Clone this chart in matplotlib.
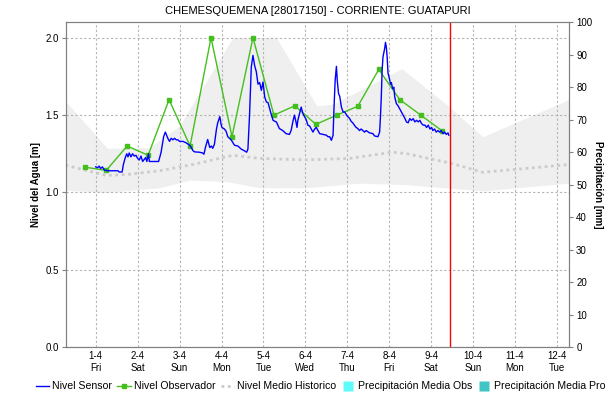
import pandas as pd
import matplotlib
matplotlib.use('Agg')
import matplotlib.pyplot as plt
import matplotlib.dates as mdates
from matplotlib.lines import Line2D

plt.rcParams['font.family'] = ['Liberation Sans', 'DejaVu Sans']

# origen de tiempo: 1-4-2016 00:00, todo en dias desde ahi
t0 = pd.Timestamp('2016-04-01 00:00')

# nivel sensor (dias, m)
sensor_dias = [0.00, 0.05, 0.08, 0.12, 0.16, 0.21, 0.30, 0.45, 0.53, 0.56, 0.63, 0.66, 0.70, 0.74,
               0.77, 0.80, 0.84, 0.88, 0.92, 0.96, 1.00, 1.04, 1.08, 1.12, 1.19, 1.22, 1.26, 1.28,
               1.50, 1.56, 1.62, 1.66, 1.72, 1.76, 1.80, 1.84, 1.88, 1.92, 1.96, 2.00, 2.08, 2.16,
               2.24, 2.28, 2.32, 2.36, 2.47, 2.55, 2.58, 2.62, 2.67, 2.72, 2.76, 2.79, 2.83, 2.88,
               2.91, 2.96, 2.99, 3.01, 3.07, 3.11, 3.15, 3.23, 3.31, 3.39, 3.47, 3.54, 3.60, 3.63,
               3.67, 3.71, 3.75, 3.79, 3.83, 3.87, 3.91, 3.95, 3.99, 4.03, 4.07, 4.11, 4.19, 4.23,
               4.31, 4.38, 4.46, 4.54, 4.62, 4.66, 4.70, 4.74, 4.78, 4.80, 4.82, 4.86, 4.90, 4.94,
               4.98, 5.02, 5.06, 5.10, 5.14, 5.18, 5.22, 5.26, 5.30, 5.34, 5.42, 5.50, 5.54, 5.58,
               5.62, 5.66, 5.68, 5.71, 5.74, 5.76, 5.79, 5.82, 5.86, 5.90, 5.94, 5.98, 6.01, 6.05,
               6.09, 6.13, 6.17, 6.21, 6.25, 6.29, 6.33, 6.37, 6.41, 6.45, 6.53, 6.61, 6.65, 6.73,
               6.77, 6.79, 6.81, 6.83, 6.85, 6.89, 6.91, 6.93, 6.95, 6.97, 7.00, 7.03, 7.05, 7.08,
               7.11, 7.13, 7.17, 7.21, 7.25, 7.29, 7.33, 7.37, 7.41, 7.45, 7.49, 7.53, 7.57, 7.61,
               7.65, 7.69, 7.73, 7.77, 7.81, 7.85, 7.89, 7.93, 7.97, 8.01, 8.04, 8.08, 8.12, 8.16,
               8.20, 8.24, 8.28, 8.32, 8.36, 8.40, 8.42]
sensor_nivel = [1.165, 1.16, 1.17, 1.155, 1.165, 1.144, 1.14, 1.14, 1.14, 1.132, 1.132, 1.18, 1.22, 1.25,
                1.23, 1.255, 1.23, 1.25, 1.235, 1.24, 1.22, 1.21, 1.235, 1.20, 1.225, 1.20, 1.25, 1.20,
                1.20, 1.26, 1.36, 1.39, 1.35, 1.33, 1.35, 1.34, 1.35, 1.34, 1.34, 1.33, 1.33, 1.32,
                1.305, 1.29, 1.27, 1.262, 1.26, 1.255, 1.247, 1.294, 1.342, 1.29, 1.30, 1.285, 1.31, 1.41,
                1.45, 1.49, 1.44, 1.42, 1.41, 1.395, 1.36, 1.34, 1.305, 1.30, 1.28, 1.27, 1.26, 1.28,
                1.51, 1.81, 1.886, 1.82, 1.78, 1.70, 1.71, 1.66, 1.714, 1.617, 1.585, 1.58, 1.50, 1.466,
                1.455, 1.413, 1.40, 1.38, 1.375, 1.40, 1.456, 1.50, 1.45, 1.42, 1.466, 1.51, 1.552, 1.51,
                1.49, 1.47, 1.434, 1.43, 1.41, 1.39, 1.41, 1.42, 1.40, 1.38, 1.375, 1.37, 1.36, 1.36,
                1.337, 1.37, 1.53, 1.725, 1.815, 1.725, 1.64, 1.62, 1.55, 1.52, 1.52, 1.50, 1.49, 1.48,
                1.46, 1.45, 1.434, 1.42, 1.413, 1.40, 1.41, 1.40, 1.39, 1.40, 1.385, 1.38, 1.365, 1.36,
                1.39, 1.49, 1.617, 1.79, 1.875, 1.93, 1.97, 1.94, 1.875, 1.77, 1.74, 1.70, 1.71, 1.67,
                1.68, 1.617, 1.574, 1.56, 1.54, 1.52, 1.50, 1.48, 1.456, 1.45, 1.477, 1.466, 1.477, 1.456,
                1.466, 1.456, 1.466, 1.445, 1.435, 1.435, 1.42, 1.435, 1.41, 1.42, 1.40, 1.41, 1.39, 1.40,
                1.39, 1.40, 1.38, 1.39, 1.375, 1.385, 1.37]

# lecturas del observador, 6:00 y 18:00
obs_dias = [-0.25, 0.25, 0.75, 1.25, 1.75, 2.25, 2.75, 3.25, 3.75, 4.25, 4.75, 5.25,
            5.75, 6.25, 6.75, 7.25, 7.75, 8.25]
obs_nivel = [1.163, 1.142, 1.30, 1.24, 1.60, 1.30, 2.0, 1.36, 2.0, 1.50, 1.56, 1.44,
             1.50, 1.557, 1.795, 1.60, 1.50, 1.40]

# nivel medio historico
hist_dias = [-0.72, 0.25, 0.73, 1.52, 2.31, 3.27, 3.91, 5.03, 6.05, 7.08, 7.42, 8.45, 9.23, 11.28]
hist_nivel = [1.176, 1.11, 1.115, 1.14, 1.18, 1.24, 1.22, 1.21, 1.22, 1.26, 1.25, 1.19, 1.13, 1.18]

# banda historica (max / min)
banda_sup_dias = [-0.72, 0.28, 1.28, 2.00, 2.55, 3.27, 4.31, 5.27, 5.65, 7.30, 8.45, 9.23, 11.28]
banda_sup = [1.59, 1.285, 1.29, 1.43, 1.68, 2.0, 2.0, 1.56, 1.57, 1.80, 1.55, 1.36, 1.60]
banda_inf_dias = [-0.72, 0.25, 1.52, 2.24, 3.12, 3.91, 5.03, 6.29, 7.42, 9.23, 11.28]
banda_inf = [1.015, 1.00, 1.03, 1.08, 1.07, 1.03, 1.03, 1.06, 1.05, 1.01, 1.06]

ahora = 8.45  # hora actual
x_ini, x_fin = -0.71, 11.29


def a_fecha(dias):
    return t0 + pd.to_timedelta(pd.Series(dias, dtype=float), unit='D')


fig, ax = plt.subplots(figsize=(6.16, 4.05), dpi=100)
fig.subplots_adjust(left=0.107, right=0.924, bottom=0.143, top=0.945)

# banda: se arma sobre una malla comun para fill_between
malla = sorted(set(banda_sup_dias) | set(banda_inf_dias))
sup = pd.Series(banda_sup, index=banda_sup_dias).reindex(malla).interpolate(method='index')
inf = pd.Series(banda_inf, index=banda_inf_dias).reindex(malla).interpolate(method='index')
ax.fill_between(a_fecha(malla), inf.values, sup.values, color='#efefef', lw=0, zorder=1)

ax.plot(a_fecha(hist_dias), hist_nivel, color='#cccccc', lw=2, ls=(0, (1, 1.3)), zorder=2)
ax.plot(a_fecha(obs_dias), obs_nivel, color='#44c01c', lw=1, marker='s', ms=3, zorder=3)
ax.plot(a_fecha(sensor_dias), sensor_nivel, color='#0000ff', lw=1, zorder=4)
ax.axvline(t0 + pd.Timedelta(days=ahora), color='#ff0000', lw=1, zorder=5)

ax.set_xlim(t0 + pd.Timedelta(days=x_ini), t0 + pd.Timedelta(days=x_fin))
ax.set_ylim(0, 2.1)
ax.set_yticks([0, 0.5, 1.0, 1.5, 2.0])
ax.yaxis.set_major_formatter(plt.FormatStrFormatter('%.1f'))
ax.xaxis.set_major_locator(mdates.DayLocator())
ax.xaxis.set_major_formatter(plt.FuncFormatter(
    lambda v, p: '{d.day}-{d.month}\n{d:%a}'.format(d=mdates.num2date(v))))

ax.grid(True, color='#b4b4b4', ls=(0, (2, 2)), lw=0.8)
ax.tick_params(axis='both', labelsize=7, length=3, color='#808080', pad=2)
ax.tick_params(axis='x', length=0, pad=3)
for s in ax.spines.values():
    s.set_color('#808080')
ax.set_ylabel('Nivel del Agua [m]', fontsize=7, fontweight='bold', labelpad=3)
ax.set_title('CHEMESQUEMENA [28017150] - CORRIENTE: GUATAPURI', fontsize=8, pad=6)

ax2 = ax.twinx()
ax2.set_ylim(0, 100)
ax2.set_yticks(range(0, 101, 10))
ax2.tick_params(labelsize=7, length=3, color='#808080', pad=2)
for s in ax2.spines.values():
    s.set_color('#808080')
ax2.set_ylabel('Precipitación [mm]', fontsize=7, fontweight='bold', rotation=-90, labelpad=8)

handles = [
    Line2D([], [], color='#0000ff', lw=1),
    Line2D([], [], color='#44c01c', lw=1, marker='s', ms=3),
    Line2D([], [], color='#cccccc', lw=2, ls=(0, (1, 1.3))),
    Line2D([], [], ls='none', marker='s', ms=7, mfc='#5ffcfc', mec='none'),
    Line2D([], [], ls='none', marker='s', ms=7, mfc='#40c4c4', mec='none'),
]
labels = ['Nivel Sensor', 'Nivel Observador', 'Nivel Medio Historico',
          'Precipitación Media Obs', 'Precipitación Media Pro']
fig.legend(handles, labels, loc='lower center', bbox_to_anchor=(0.52, 0.0), ncol=5,
           frameon=False, fontsize=7.6, handlelength=1.3, handletextpad=0.25,
           columnspacing=0.5, borderaxespad=0.9)

fig.savefig('out.png', dpi=100)
